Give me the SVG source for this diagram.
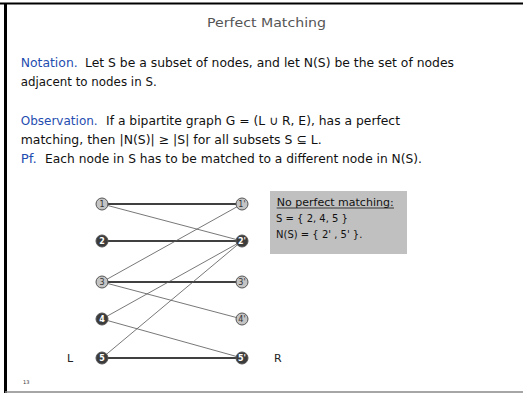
<svg xmlns="http://www.w3.org/2000/svg" width="523" height="393" viewBox="0 0 523 393">
<style>
.t{font-family:"DejaVu Sans","Liberation Sans",sans-serif;font-size:12.5px;fill:#111}
.b{fill:#1f4db0}
.ttl{font-family:"DejaVu Sans","Liberation Sans",sans-serif;font-size:13px;fill:#555}
.bx{font-family:"DejaVu Sans",sans-serif;font-size:10px;fill:#111}
.lt circle{fill:#c4c4c4;stroke:#555;stroke-width:1}
.dk circle{fill:#3c3c3c;stroke:#555;stroke-width:1}
.lt text{font-family:"DejaVu Sans",sans-serif;font-size:8px;fill:#333;text-anchor:middle}
.dk text{font-family:"DejaVu Sans",sans-serif;font-size:8px;fill:#fff;text-anchor:middle;font-weight:bold}
.m{stroke:#000;stroke-width:1.4}
.e{stroke:#555;stroke-width:0.8}
.lab{font-family:"DejaVu Sans","Liberation Sans",sans-serif;font-size:11px;fill:#222}
</style>
<rect width="523" height="393" fill="#fff"/>
<line x1="0" y1="3.5" x2="523" y2="3.5" stroke="#000" stroke-width="2"/>
<line x1="5.5" y1="3" x2="5.5" y2="393" stroke="#000" stroke-width="3"/>
<line x1="5" y1="392" x2="523" y2="392" stroke="#888" stroke-width="1.5"/>

<text class="ttl" x="207" y="27" textLength="119" lengthAdjust="spacingAndGlyphs">Perfect Matching</text>

<text class="t b" x="20.7" y="67" textLength="57" lengthAdjust="spacingAndGlyphs">Notation.</text>
<text class="t" x="85" y="67" textLength="369" lengthAdjust="spacingAndGlyphs">Let S be a subset of nodes, and let N(S) be the set of nodes</text>
<text class="t" x="20.7" y="86" textLength="136" lengthAdjust="spacingAndGlyphs">adjacent to nodes in S.</text>
<text class="t b" x="20.7" y="125" textLength="77" lengthAdjust="spacingAndGlyphs">Observation.</text>
<text class="t" x="106" y="125" textLength="294" lengthAdjust="spacingAndGlyphs">If a bipartite graph G = (L ∪ R, E), has a perfect</text>
<text class="t" x="20.7" y="144" textLength="301" lengthAdjust="spacingAndGlyphs">matching, then |N(S)| ≥ |S| for all subsets S ⊆ L.</text>
<text class="t b" x="20.7" y="163" textLength="16" lengthAdjust="spacingAndGlyphs">Pf.</text>
<text class="t" x="45" y="163" textLength="377" lengthAdjust="spacingAndGlyphs">Each node in S has to be matched to a different node in N(S).</text>

<g id="infobox">
<rect x="270" y="191" width="137" height="63" fill="#c0c0c0"/>
<text class="bx" x="276.7" y="206" textLength="117" lengthAdjust="spacingAndGlyphs">No perfect matching:</text>
<line x1="276.7" y1="208" x2="394" y2="208" stroke="#111" stroke-width="0.8"/>
<text class="bx" x="276" y="222">S = { 2, 4, 5 }</text>
<text class="bx" x="276" y="238">N(S) = { 2' , 5' }.</text>
</g>

<g id="connectors">
<line class="m" x1="102" y1="204" x2="242" y2="204"/>
<line class="m" x1="102" y1="241" x2="242" y2="241"/>
<line class="m" x1="102" y1="282" x2="242" y2="282"/>
<line class="m" x1="102" y1="358" x2="242" y2="358"/>
<line class="e" x1="102" y1="204" x2="242" y2="241"/>
<line class="e" x1="102" y1="282" x2="242" y2="204"/>
<line class="e" x1="102" y1="282" x2="242" y2="319"/>
<line class="e" x1="102" y1="319" x2="242" y2="241"/>
<line class="e" x1="102" y1="319" x2="242" y2="358"/>
<line class="e" x1="102" y1="358" x2="242" y2="241"/>
</g>

<g id="n1" class="lt"><circle cx="102" cy="204" r="6"/><text x="102" y="207">1</text></g>
<g id="n2" class="dk"><circle cx="102" cy="241" r="6"/><text x="102" y="244">2</text></g>
<g id="n3" class="lt"><circle cx="102" cy="282" r="6"/><text x="102" y="285">3</text></g>
<g id="n4" class="dk"><circle cx="102" cy="319" r="6"/><text x="102" y="322">4</text></g>
<g id="n5" class="dk"><circle cx="102" cy="358" r="6"/><text x="102" y="361">5</text></g>
<g id="m1" class="lt"><circle cx="242" cy="204" r="6"/><text x="242" y="207">1'</text></g>
<g id="m2" class="dk"><circle cx="242" cy="241" r="6"/><text x="242" y="244">2'</text></g>
<g id="m3" class="lt"><circle cx="242" cy="282" r="6"/><text x="242" y="285">3'</text></g>
<g id="m4" class="lt"><circle cx="242" cy="319" r="6"/><text x="242" y="322">4'</text></g>
<g id="m5" class="dk"><circle cx="242" cy="358" r="6"/><text x="242" y="361">5'</text></g>

<text class="lab" x="67" y="362">L</text>
<text class="lab" x="274" y="362">R</text>
<text x="23" y="384" font-family="DejaVu Sans,sans-serif" font-size="5px" fill="#333">13</text>
</svg>
